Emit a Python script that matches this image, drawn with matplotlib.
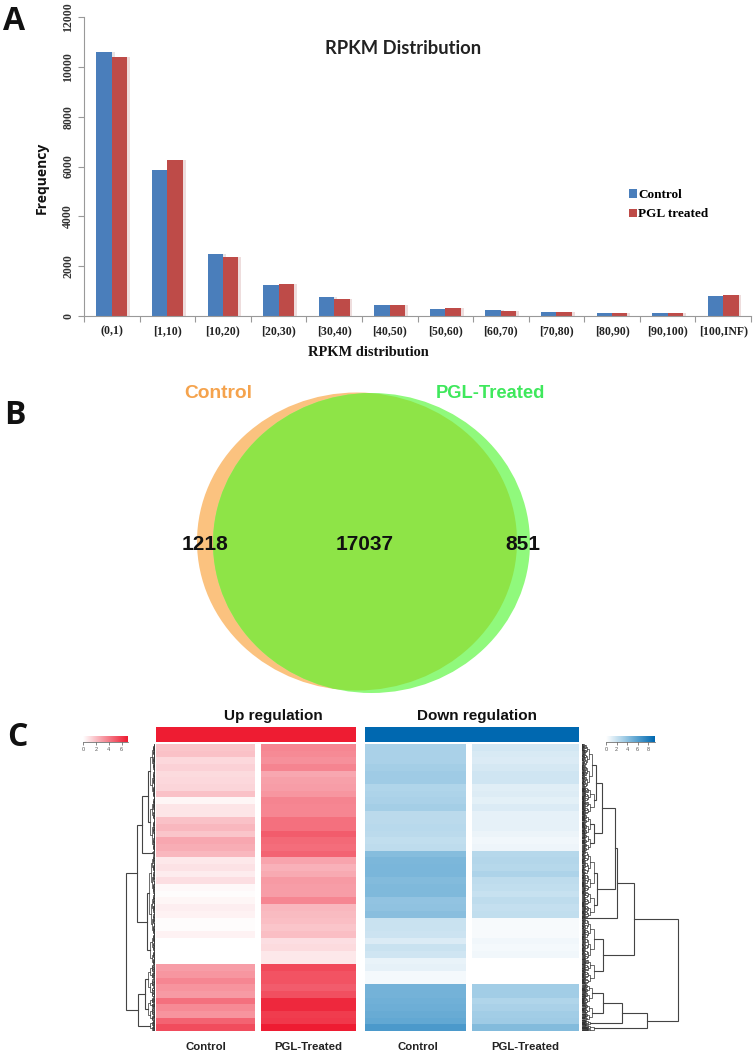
import numpy as np
import matplotlib
matplotlib.use("Agg")
import matplotlib.pyplot as plt
from matplotlib.colors import LinearSegmentedColormap
from matplotlib.patches import Ellipse

W, H = 753, 1055

# panel A
categories = ["(0,1)", "[1,10)", "[10,20)", "[20,30)", "[30,40)", "[40,50)", "[50,60)",
              "[60,70)", "[70,80)", "[80,90)", "[90,100)", "[100,INF)"]
control_freq = [10600, 5850, 2480, 1230, 770, 460, 300, 240, 170, 110, 110, 800]
pgl_freq = [10400, 6250, 2380, 1270, 700, 450, 330, 210, 170, 110, 110, 860]
y_ticks = [0, 2000, 4000, 6000, 8000, 10000, 12000]

# panel B
venn_counts = ["1218", "17037", "851"]
venn_names = ["Control", "PGL-Treated"]

# panel C, one value per row of the heatmaps
up_control = [1.8, 1.9, 1.2, 1.4, 1.1, 1.2, 1.3, 1.9, 0.3, 0.8, 0.8, 1.9, 2.2, 1.8, 2.7, 2.5, 2.2,
              0.7, 0.9, 0.6, 1.0, 0.2, 0.1, 0.3, 0.5, 0.4, 0.1, 0.1, 0.4, 0.0, 0.0, 0.0, 0.0,
              3.0, 3.2, 3.7, 3.3, 3.1, 4.4, 3.6, 3.3, 4.8, 5.5]
up_pgl = [3.7, 3.6, 3.4, 3.8, 2.7, 2.9, 3.0, 3.2, 3.8, 3.7, 3.7, 4.4, 4.4, 5.0, 4.6, 4.5, 4.8,
          2.8, 2.4, 2.6, 3.1, 3.0, 3.0, 3.7, 2.2, 2.1, 2.0, 1.8, 2.0, 1.0, 1.1, 0.7, 0.7,
          5.6, 5.3, 5.3, 5.0, 5.4, 6.6, 6.6, 6.0, 6.1, 7.0]
down_control = [3.0, 3.0, 3.0, 3.2, 3.4, 3.4, 2.8, 2.9, 3.0, 3.2, 2.4, 2.4, 2.5, 2.4, 2.2, 2.3, 4.2,
                4.5, 4.6, 4.6, 4.3, 4.4, 4.4, 3.8, 3.9, 4.1, 1.9,
                1.9, 1.8, 1.3, 1.9, 1.7, 0.8, 0.9, 0.4, 0.4,
                4.8, 4.8, 4.9, 5.0, 5.2, 5.4, 6.2]
down_pgl = [1.6, 1.4, 1.3, 1.5, 1.7, 1.7, 1.1, 1.2, 1.0, 1.3, 0.9, 0.9, 0.9, 0.7, 0.5, 0.6, 2.6,
            2.7, 2.6, 2.9, 2.3, 2.2, 2.0, 2.3, 2.1, 2.2, 0.3,
            0.3, 0.3, 0.5, 0.4, 0.5, 0.0, 0.0, 0.0, 0.0,
            3.3, 3.3, 2.8, 3.0, 3.3, 3.4, 4.3]
up_key_ticks = [0, 2, 4, 6]
down_key_ticks = [0, 2, 4, 6, 8]


# dendrogram nodes are [height, child, child], leaves are (rows, height of the fine tree)
left_tree = [29,
             [18,
              [13, [7, (8, 5), (8, 5)], (0.5, 3)],
              [8, (12, 6), (4.5, 5)]],
             [17, [10, (5, 7), (3.5, 7)], (1.5, 5)]]
right_tree = [96,
              [52,
               [35,
                [33,
                 [20, [14, (6.5, 10), (4, 12)], [12, (3, 8), (2.5, 8)]],
                 [15, (6, 12), (4, 12)]],
                (0.2, 1)],
               [21, (6, 12), (3.7, 12)]],
              [65,
               [40, [21, (3, 10), (2.5, 10)], (0.8, 8)],
               (0.8, 12)]]
fine_levels = [1, 0.7, 0.5, 0.38, 0.28, 0.2, 0.12, 0.07]
fine_splits = [0.5, 0.42, 0.58, 0.47, 0.55]

RED = "#ee1c32"
BLUE = "#0068b0"
red_cmap = LinearSegmentedColormap.from_list("reds", ["#ffffff", RED])
blue_cmap = LinearSegmentedColormap.from_list("blues", [(0, "#ffffff"), (0.34, "#a9d1e8"),
                                                        (0.6, "#62a8d3"), (1, BLUE)])


def px_axes(fig, left, top, right, bottom):
    return fig.add_axes([left / W, 1 - bottom / H, (right - left) / W, (bottom - top) / H])


def draw_fine(ax, start, rows, top, depth, color):
    # balanced little tree for the dense part next to the heatmap
    if rows < 0.1 or depth >= len(fine_levels):
        return start + rows / 2, 0
    h = top * fine_levels[depth]
    cut = rows * fine_splits[(int(start * 7) + depth) % len(fine_splits)]
    y1, h1 = draw_fine(ax, start, cut, top, depth + 1, color)
    y2, h2 = draw_fine(ax, start + cut, rows - cut, top, depth + 1, color)
    ax.plot([h1, h, h, h2], [y1, y1, y2, y2], color=color, lw=0.5, solid_joinstyle="miter")
    return (y1 + y2) / 2, h


def draw_tree(ax, node, start, color="#333333"):
    if isinstance(node, tuple):
        y, h = draw_fine(ax, start, node[0], node[1], 0, color)
        return y, h, start + node[0]
    y1, h1, nxt = draw_tree(ax, node[1], start, color)
    y2, h2, nxt = draw_tree(ax, node[2], nxt, color)
    ax.plot([h1, node[0], node[0], h2], [y1, y1, y2, y2], color="#444444", lw=0.8,
            solid_joinstyle="miter")
    return (y1 + y2) / 2, node[0], nxt


def heat_column(fig, values, cmap, vmax, left, right):
    ax = px_axes(fig, left, 744, right, 1031)
    ax.imshow(np.array(values).reshape(-1, 1), cmap=cmap, vmin=0, vmax=vmax, aspect="auto",
              interpolation="nearest")
    ax.axis("off")
    return ax


def color_key(fig, cmap, vmax, ticks, left, right):
    ax = px_axes(fig, left, 736, right, 742)
    ax.imshow(np.linspace(0, vmax, 100).reshape(1, -1), cmap=cmap, aspect="auto",
              extent=[0, vmax, 0, 1])
    ax.set_yticks([])
    ax.set_xticks(ticks)
    ax.set_xticklabels(ticks, fontsize=4, color="#555555", fontfamily="Liberation Sans")
    ax.tick_params(axis="x", length=2, width=0.5, pad=1.5, color="#555555")
    for s in ax.spines.values():
        s.set_visible(False)
    ax.spines["bottom"].set_visible(True)
    ax.spines["bottom"].set_linewidth(0.5)
    ax.spines["bottom"].set_color("#555555")


fig = plt.figure(figsize=(W / 100, H / 100), dpi=100, facecolor="white")

# ---- A: bar chart
ax = px_axes(fig, 84, 17, 751, 316)
x = np.arange(len(categories))
bw = 0.278
ax.bar(x - bw / 2 + 0.05, control_freq, bw, color="#e9e4e4", zorder=1)
ax.bar(x + bw / 2 + 0.05, pgl_freq, bw, color="#eedddd", zorder=1)
b1 = ax.bar(x - bw / 2, control_freq, bw, color="#4a7ebb", label="Control", zorder=2)
b2 = ax.bar(x + bw / 2, pgl_freq, bw, color="#be4b48", label="PGL treated", zorder=2)
ax.set_xlim(-0.5, 11.5)
ax.set_ylim(0, 12000)
ax.set_yticks(y_ticks)
ax.set_yticklabels(y_ticks, rotation=90, va="center", fontsize=8.5, fontweight="bold",
                   fontfamily="Liberation Serif", color="#333333")
ax.set_xticks(np.arange(-0.5, 12, 1))
ax.set_xticklabels([])
ax.set_xticks(x, minor=True)
ax.set_xticklabels(categories, minor=True, fontsize=8.5, fontweight="bold",
                   fontfamily="Liberation Serif", color="#222222")
ax.tick_params(axis="x", which="minor", length=0, pad=6.5)
ax.tick_params(axis="both", which="major", length=4, width=0.8, color="#999999")
ax.tick_params(axis="y", pad=3)
ax.spines["top"].set_visible(False)
ax.spines["right"].set_visible(False)
ax.spines["left"].set_color("#999999")
ax.spines["bottom"].set_color("#999999")
ax.legend(handles=[b1, b2], loc="center left", bbox_to_anchor=(0.80, 0.372), frameon=False,
          handlelength=0.6, handleheight=0.6, handletextpad=0.05, labelspacing=0.55,
          prop={"family": "Liberation Serif", "weight": "bold", "size": 9.5})

# overlay in pixel coordinates for the free text and the venn diagram
ov = fig.add_axes([0, 0, 1, 1])
ov.set_xlim(0, W)
ov.set_ylim(H, 0)
ov.axis("off")
ov.patch.set_alpha(0)

ov.text(403, 49, "RPKM Distribution", ha="center", va="center", fontsize=13.2, fontweight="bold",
        fontfamily="Lato", color="#222222")
ov.text(42, 178, "Frequency", rotation=90, ha="center", va="center", fontsize=10,
        fontweight="bold", fontfamily="Open Sans", color="#111111")
ov.text(368, 353, "RPKM distribution", ha="center", va="center", fontsize=10.4, fontweight="bold",
        fontfamily="Liberation Serif", color="#111111")
for letter, lx, ly in [("A", 14, 21), ("B", 15, 415), ("C", 17, 738)]:
    ov.text(lx, ly, letter, ha="center", va="center", fontsize=23, fontweight="bold",
            fontfamily="Open Sans", color="#111111")

# ---- B: venn
orange = Ellipse((357, 541.5), 320, 298, facecolor="#fbc27f", edgecolor="none", zorder=1)
green = Ellipse((371.5, 543), 317, 300, facecolor="#90f97c", edgecolor="none", zorder=2)
overlap = Ellipse((371.5, 543), 317, 300, facecolor="#8ee447", edgecolor="none", zorder=3)
clip = Ellipse((357, 541.5), 320, 298, transform=ov.transData, facecolor="none", edgecolor="none")
ov.add_patch(orange)
ov.add_patch(green)
ov.add_patch(overlap)
ov.add_patch(clip)
overlap.set_clip_path(clip)
for txt, tx in zip(venn_counts, [205, 365, 523]):
    ov.text(tx, 544, txt, ha="center", va="center", fontsize=15, fontweight="bold",
            fontfamily="Liberation Sans", color="#111111", zorder=5)
ov.text(218, 393, venn_names[0], ha="center", va="center", fontsize=13.8, fontweight="bold",
        fontfamily="Liberation Sans", color="#f5a34d", zorder=5)
ov.text(490, 393, venn_names[1], ha="center", va="center", fontsize=13.2, fontweight="bold",
        fontfamily="Liberation Sans", color="#3fe85c", zorder=5)

# ---- C: heatmaps
heat_column(fig, up_control, red_cmap, 7, 156, 255)
heat_column(fig, up_pgl, red_cmap, 7, 261, 356)
heat_column(fig, down_control, blue_cmap, 9, 365, 466)
heat_column(fig, down_pgl, blue_cmap, 9, 472, 579)

for color, left, right in [(RED, 156, 356), (BLUE, 365, 579)]:
    band = px_axes(fig, left, 727, right, 742)
    band.set_facecolor(color)
    band.set_xticks([])
    band.set_yticks([])
    for s in band.spines.values():
        s.set_visible(False)

color_key(fig, red_cmap, 7, up_key_ticks, 83, 128)
color_key(fig, blue_cmap, 9.3, down_key_ticks, 606, 655)

tree_l = px_axes(fig, 115, 744, 155, 1031)
tree_l.set_xlim(40, 0)
tree_l.set_ylim(43, 0)
tree_l.axis("off")
draw_tree(tree_l, left_tree, 0)

tree_r = px_axes(fig, 582, 744, 682, 1031)
tree_r.set_xlim(0, 100)
tree_r.set_ylim(43, 0)
tree_r.axis("off")
draw_tree(tree_r, right_tree, 0)

for txt, tx in [("Up regulation", 273), ("Down regulation", 477)]:
    ov.text(tx, 716, txt, ha="center", va="center", fontsize=11, fontweight="bold",
            fontfamily="Liberation Sans", color="#111111")
for txt, tx in [("Control", 206), ("PGL-Treated", 308), ("Control", 418), ("PGL-Treated", 525)]:
    ov.text(tx, 1047, txt, ha="center", va="center", fontsize=8.2, fontweight="bold",
            fontfamily="Liberation Sans", color="#222222")

fig.savefig("out.png", dpi=100, facecolor="white")
